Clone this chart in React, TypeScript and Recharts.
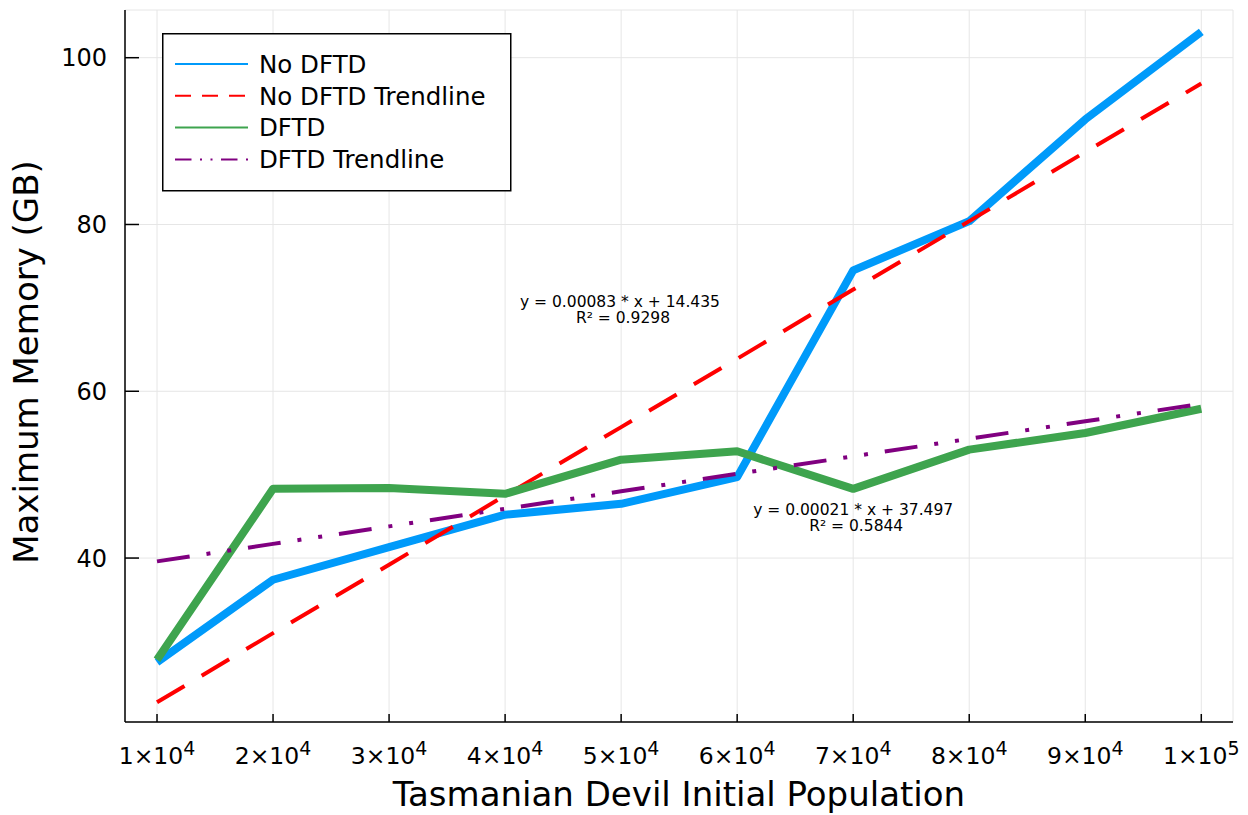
import React from 'react';
import {
  LineChart,
  Line,
  XAxis,
  YAxis,
  CartesianGrid,
  Legend,
  ReferenceDot,
  Label,
} from 'recharts';

// ---------- data ----------
const population = [10000, 20000, 30000, 40000, 50000, 60000, 70000, 80000, 90000, 100000];
const noDftd = [27.5, 37.4, 41.3, 45.2, 46.5, 49.7, 74.5, 80.4, 92.6, 103.1];
const noDftdTrend = [22.7, 31.0, 39.2, 47.5, 55.7, 63.9, 72.2, 80.4, 88.7, 96.9];
const dftd = [27.8, 48.3, 48.4, 47.7, 51.8, 52.8, 48.3, 53.0, 55.0, 57.9];
const dftdTrend = [39.6, 41.7, 43.8, 45.9, 48.0, 50.1, 52.2, 54.3, 56.4, 58.5];

const xTicks = [10000, 20000, 30000, 40000, 50000, 60000, 70000, 80000, 90000, 100000];
const yTicks = [40, 60, 80, 100];

const seriesNames = ['No DFTD', 'No DFTD Trendline', 'DFTD', 'DFTD Trendline'];

const annX = [49900, 70000];
const annY = [69.7, 44.8];
const annLines = [
  ['y = 0.00083 * x + 14.435', 'R\u00B2 = 0.9298'],
  ['y = 0.00021 * x + 37.497', 'R\u00B2 = 0.5844'],
];

const xTitle = 'Tasmanian Devil Initial Population';
const yTitle = 'Maximum Memory (GB)';

const data = population.map((p, i) => ({
  x: p,
  noDftd: noDftd[i],
  noDftdTrend: noDftdTrend[i],
  dftd: dftd[i],
  dftdTrend: dftdTrend[i],
}));

// ---------- styles ----------
const FONT = '"DejaVu Sans", Verdana, sans-serif';
const BLUE = '#009AFA';
const RED = '#FF0000';
const GREEN = '#3EA44E';
const PURPLE = '#800080';

const legendItems = [
  { name: seriesNames[0], color: BLUE, dash: undefined as string | undefined },
  { name: seriesNames[1], color: RED, dash: '16 11' },
  { name: seriesNames[2], color: GREEN, dash: undefined },
  { name: seriesNames[3], color: PURPLE, dash: '16.5 8.5 2 8.5 2 8.5' },
];

const XTick = (props: any) => {
  const { x, y, payload } = props;
  const v = Number(payload.value);
  const e = Math.floor(Math.log10(v) + 1e-9);
  const m = Math.round(v / Math.pow(10, e));
  return (
    <g>
      <line x1={x} x2={x} y1={y} y2={y - 8} stroke="#000" strokeWidth={1.5} />
      <text x={x} y={y + 42} textAnchor="middle" fontFamily={FONT} fontSize={23.5} fill="#000">
        <tspan>{`${m}\u00D710`}</tspan>
        <tspan dy={-9} fontSize={19}>{e}</tspan>
      </text>
    </g>
  );
};

const YTick = (props: any) => {
  const { x, y, payload } = props;
  return (
    <g>
      <line x1={x} x2={x + 14} y1={y} y2={y} stroke="#000" strokeWidth={1.5} />
      <text x={x - 18} y={y} dy="0.36em" textAnchor="end" fontFamily={FONT} fontSize={24} fill="#000">
        {payload.value}
      </text>
    </g>
  );
};

const LegendBox = () => (
  <svg width={350} height={159} style={{ display: 'block' }}>
    <rect x={0.75} y={0.75} width={348} height={157} fill="#fff" stroke="#000" strokeWidth={1.5} />
    {legendItems.map((it, i) => {
      const cy = 31 + i * 31.8;
      return (
        <g key={it.name}>
          <line x1={13} x2={86} y1={cy} y2={cy} stroke={it.color} strokeWidth={2} strokeDasharray={it.dash} />
          <text x={97} y={cy} dy="0.36em" fontFamily={FONT} fontSize={24.5} fill="#000">
            {it.name}
          </text>
        </g>
      );
    })}
  </svg>
);

const makeAnnLabel = (lines: string[]) => (props: any) => {
  const vb = props.viewBox || {};
  const cx = (vb.x ?? 0) + (vb.width ?? 0) / 2;
  const cy = (vb.y ?? 0) + (vb.height ?? 0) / 2;
  return (
    <text textAnchor="middle" fontFamily={FONT} fontSize={15.5} fill="#000">
      <tspan x={cx} y={cy - 3}>{lines[0]}</tspan>
      <tspan x={cx + 3} y={cy + 13}>{lines[1]}</tspan>
    </text>
  );
};

const XTitle = (props: any) => {
  const vb = props.viewBox || { x: 125, y: 722, width: 1108, height: 93 };
  return (
    <text x={vb.x + vb.width / 2} y={vb.y + 84} textAnchor="middle" fontFamily={FONT} fontSize={34} fill="#000">
      {xTitle}
    </text>
  );
};

const YTitle = (props: any) => {
  const vb = props.viewBox || { x: 0, y: 10, width: 125, height: 712 };
  const x = vb.x + 38;
  const y = vb.y + vb.height / 2 - 4;
  return (
    <text x={x} y={y} transform={`rotate(-90, ${x}, ${y})`} textAnchor="middle" fontFamily={FONT} fontSize={34} fill="#000">
      {yTitle}
    </text>
  );
};

export default function App() {
  return (
    <div style={{ position: 'absolute', left: 0, top: 0, width: 1248, height: 815, background: '#fff' }}>
      <LineChart width={1248} height={815} data={data} margin={{ top: 10, right: 15, bottom: 0, left: 0 }}>
        <CartesianGrid stroke="#e6e6e6" strokeWidth={1} />
        <XAxis
          dataKey="x"
          type="number"
          domain={[7241, 102733]}
          ticks={xTicks}
          interval={0}
          allowDataOverflow
          height={93}
          tickSize={0}
          tickMargin={0}
          tickLine={false}
          tick={<XTick />}
          axisLine={{ stroke: '#000', strokeWidth: 1.5 }}
        >
          <Label content={<XTitle />} />
        </XAxis>
        <YAxis
          type="number"
          domain={[20.34, 105.72]}
          ticks={yTicks}
          interval={0}
          allowDataOverflow
          width={125}
          tickSize={0}
          tickMargin={0}
          tickLine={false}
          tick={<YTick />}
          axisLine={{ stroke: '#000', strokeWidth: 1.5 }}
        >
          <Label content={<YTitle />} />
        </YAxis>
        <Line
          dataKey="noDftd"
          name={seriesNames[0]}
          stroke={BLUE}
          strokeWidth={8}
          dot={false}
          type="linear"
          strokeLinejoin="round"
          isAnimationActive={false}
        />
        <Line
          dataKey="noDftdTrend"
          name={seriesNames[1]}
          stroke={RED}
          strokeWidth={4}
          strokeDasharray="32 20"
          dot={false}
          type="linear"
          isAnimationActive={false}
        />
        <Line
          dataKey="dftd"
          name={seriesNames[2]}
          stroke={GREEN}
          strokeWidth={8}
          dot={false}
          type="linear"
          strokeLinejoin="round"
          isAnimationActive={false}
        />
        <Line
          dataKey="dftdTrend"
          name={seriesNames[3]}
          stroke={PURPLE}
          strokeWidth={4}
          strokeDasharray="33 17 4 17 4 17"
          dot={false}
          type="linear"
          isAnimationActive={false}
        />
        {annX.map((ax, i) => (
          <ReferenceDot
            key={i}
            x={ax}
            y={annY[i]}
            r={1}
            fill="none"
            stroke="none"
            label={makeAnnLabel(annLines[i])}
          />
        ))}
        <Legend
          layout="horizontal"
          verticalAlign="middle"
          align="center"
          content={() => <LegendBox />}
          wrapperStyle={{ position: 'absolute', left: 162, top: 33, width: 350, height: 159, lineHeight: 0 }}
        />
      </LineChart>
    </div>
  );
}
